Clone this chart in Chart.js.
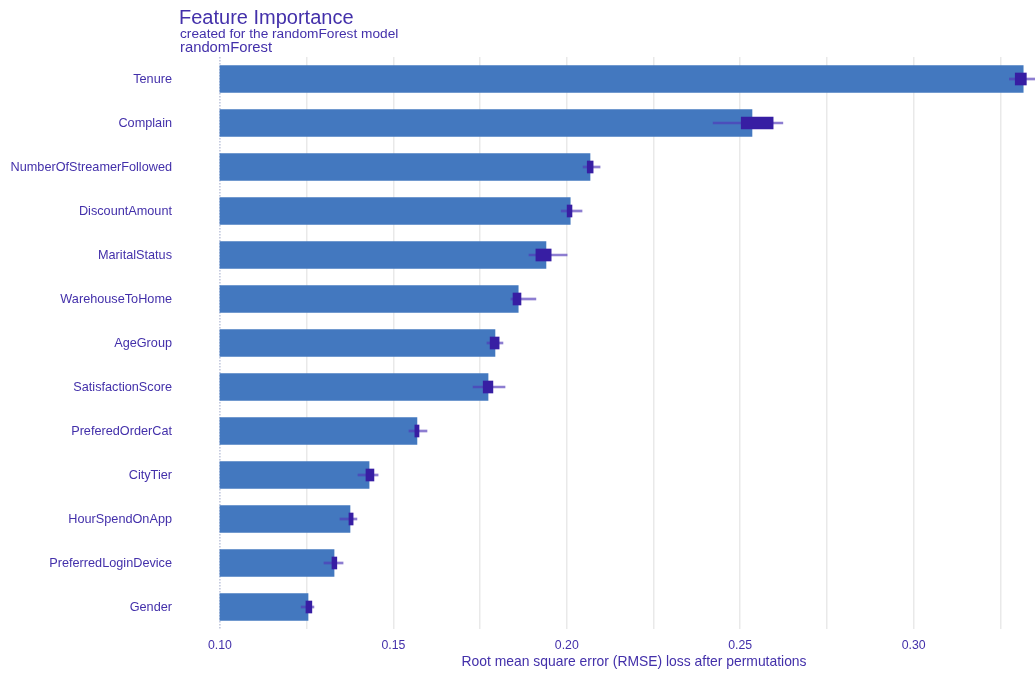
<!DOCTYPE html>
<html>
<head>
<meta charset="utf-8">
<script src="https://cdn.jsdelivr.net/npm/chart.js@4"></script>
<style>
  html, body { margin: 0; padding: 0; background: #fff; }
  canvas { display: block; }
</style>
</head>
<body>
<canvas id="chart" width="1035" height="673"></canvas>
<script>
// permutation importance, randomForest model
const features = ["Tenure", "Complain", "NumberOfStreamerFollowed", "DiscountAmount", "MaritalStatus",
  "WarehouseToHome", "AgeGroup", "SatisfactionScore", "PreferedOrderCat", "CityTier",
  "HourSpendOnApp", "PreferredLoginDevice", "Gender"]
const meanLoss    = [0.3316, 0.2534, 0.2067, 0.2010, 0.1940, 0.1860, 0.1793, 0.1773, 0.1568, 0.1430, 0.1375, 0.1329, 0.1254]
const boxLow      = [0.3293, 0.2503, 0.2059, 0.2001, 0.1911, 0.1845, 0.1779, 0.1759, 0.1562, 0.1421, 0.1372, 0.1323, 0.1248]
const boxHigh     = [0.3325, 0.2595, 0.2076, 0.2015, 0.1955, 0.1868, 0.1805, 0.1787, 0.1574, 0.1444, 0.1384, 0.1337, 0.1265]
const whiskerLow  = [0.3276, 0.2422, 0.2047, 0.1984, 0.1891, 0.1839, 0.1770, 0.1730, 0.1545, 0.1398, 0.1346, 0.1300, 0.1234]
const whiskerHigh = [0.3351, 0.2623, 0.2096, 0.2044, 0.2001, 0.1911, 0.1816, 0.1822, 0.1597, 0.1456, 0.1395, 0.1355, 0.1271]
const fullModelLoss = 0.10
const tickLabels = ["0.10", "0.15", "0.20", "0.25", "0.30"]
const gridValues = [0.10, 0.125, 0.15, 0.175, 0.20, 0.225, 0.25, 0.275, 0.30, 0.325]

const PURPLE = "#371ea3"
const TEXT = "#4330aa"
const BAR_BLUE = "#4378bf"
const FONT = "'Liberation Sans', Arial, sans-serif"

Chart.defaults.font.family = FONT
Chart.defaults.color = TEXT

// titles, axis title and the dotted full-model line
const decorations = {
  id: "decorations",
  beforeDatasetsDraw(chart){
    const ctx = chart.ctx
    const x = chart.scales.x.getPixelForValue(fullModelLoss)
    ctx.save()
    ctx.strokeStyle = "#9aa6c8"
    ctx.lineWidth = 1
    ctx.setLineDash([1.5, 1.5])
    ctx.beginPath()
    ctx.moveTo(x, chart.chartArea.top)
    ctx.lineTo(x, chart.chartArea.bottom)
    ctx.stroke()
    ctx.restore()
  },
  afterDraw(chart){
    const ctx = chart.ctx
    ctx.save()
    ctx.fillStyle = TEXT
    ctx.textAlign = "left"
    ctx.textBaseline = "alphabetic"
    ctx.font = `20px ${FONT}`
    ctx.fillText("Feature Importance", 179, 24)
    ctx.font = `13.7px ${FONT}`
    ctx.fillText("created for the randomForest model", 180, 38)
    ctx.font = `14.8px ${FONT}`
    ctx.fillText("randomForest", 180, 52)
    ctx.textAlign = "center"
    ctx.textBaseline = "middle"
    ctx.font = `13.9px ${FONT}`
    ctx.fillText("Root mean square error (RMSE) loss after permutations", 634, 662)
    ctx.restore()
  }
}

new Chart(document.getElementById("chart"), {
  type: "bar",
  data: {
    labels: features,
    datasets: [
      {
        label: "mean loss",
        data: features.map((f, i) => [fullModelLoss, meanLoss[i]]),
        backgroundColor: BAR_BLUE,
        barThickness: 27,
        grouped: false,
        order: 3
      },
      {
        label: "whiskers",
        data: features.map((f, i) => [whiskerLow[i], whiskerHigh[i]]),
        backgroundColor: "rgba(80, 55, 185, 0.65)",
        barThickness: 2,
        grouped: false,
        order: 2
      },
      {
        label: "box",
        data: features.map((f, i) => [boxLow[i], boxHigh[i]]),
        backgroundColor: PURPLE,
        barThickness: 12,
        grouped: false,
        order: 1
      }
    ]
  },
  options: {
    indexAxis: "y",
    responsive: false,
    animation: false,
    devicePixelRatio: 1,
    layout: { padding: { top: 57, right: 0, bottom: 0, left: 0 } },
    plugins: {
      legend: { display: false },
      tooltip: { enabled: false }
    },
    scales: {
      x: {
        type: "linear",
        min: 0.098,
        max: 0.335,
        afterBuildTicks(scale){
          scale.ticks = gridValues.map(v => ({ value: v }))
        },
        afterFit(scale){ scale.height = 44 },
        ticks: {
          autoSkip: false,
          maxRotation: 0,
          padding: 9,
          color: TEXT,
          font: { size: 12.3 },
          callback(value){
            const s = value.toFixed(2)
            return tickLabels.includes(s) && Math.abs(Number(s) - value) < 1e-9 ? s : ""
          }
        },
        grid: {
          drawTicks: false,
          color: ctx => ctx.tick && Math.abs(ctx.tick.value - fullModelLoss) < 1e-9 ? "rgba(0,0,0,0)" : "#e9e9e9",
          lineWidth: 1.5
        },
        border: { display: false }
      },
      y: {
        afterFit(scale){
          // the wide label padding should not squeeze the plot vertically
          scale.width = 213
          scale.paddingTop = 0
          scale.paddingBottom = 0
        },
        ticks: {
          padding: 41,
          color: TEXT,
          font: { size: 12.7 }
        },
        grid: { display: false, drawTicks: false },
        border: { display: false }
      }
    }
  },
  plugins: [decorations]
})
</script>
</body>
</html>
